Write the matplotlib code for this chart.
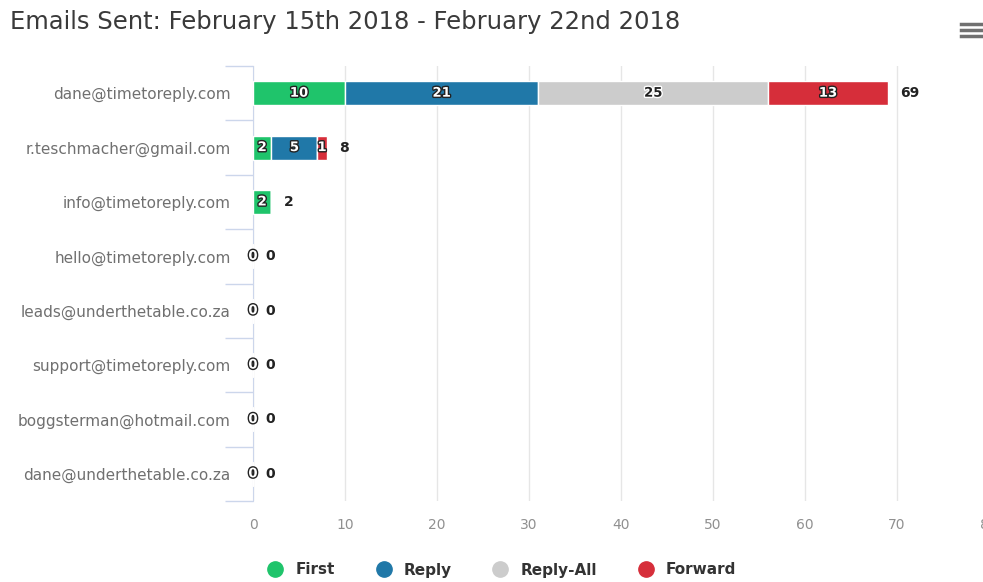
import matplotlib.pyplot as plt
import matplotlib.patheffects as pe
from matplotlib.lines import Line2D
import numpy as np

# Data
senders = ['dane@timetoreply.com', 'r.teschmacher@gmail.com', 'info@timetoreply.com',
           'hello@timetoreply.com', 'leads@underthetable.co.za', 'support@timetoreply.com',
           'boggsterman@hotmail.com', 'dane@underthetable.co.za']
series_names = ['First', 'Reply', 'Reply-All', 'Forward']
first = [10, 2, 2, 0, 0, 0, 0, 0]
reply = [21, 5, 0, 0, 0, 0, 0, 0]
reply_all = [25, 0, 0, 0, 0, 0, 0, 0]
forward = [13, 1, 0, 0, 0, 0, 0, 0]
colors = ['#1fc46b', '#2078a8', '#cccccc', '#d62e3a']

W, H = 983, 582
fig = plt.figure(figsize=(W / 100, H / 100), dpi=100)
ax = fig.add_axes([253 / W, 1 - 501 / H, (989 - 253) / W, (501 - 66) / H])

y = np.arange(len(senders))
left = np.zeros(len(senders))
for name, vals, c in zip(series_names, [first, reply, reply_all, forward], colors):
    vals = np.array(vals, dtype=float)
    ax.barh(y, vals, left=left, height=0.44, color=c, edgecolor='white', linewidth=1, zorder=3)
    for yi, v, l in zip(y, vals, left):
        if c == '#cccccc' and v > 0:
            ax.text(l + v / 2, yi, f'{int(v)}', ha='center', va='center', fontsize=9.5,
                    fontweight='bold', color='#222222', zorder=5,
                    path_effects=[pe.withStroke(linewidth=2, foreground='white')])
        elif v > 0 or c == '#1fc46b':
            ax.text(l + v / 2, yi, f'{int(v)}', ha='center', va='center', fontsize=9.5,
                    fontweight='bold', color='white', zorder=5,
                    path_effects=[pe.withStroke(linewidth=2, foreground='#222222')])
    left += vals

totals = left
for yi, t in zip(y, totals):
    ax.annotate(f'{int(t)}', (t, yi), xytext=(9, 0), textcoords='offset points',
                ha='left', va='center', fontsize=10, fontweight='bold', color='#222222', zorder=5)

ax.set_xlim(0, 80)
ax.set_ylim(len(senders) - 0.5, -0.5)
ax.set_xticks(np.arange(0, 81, 10))
ax.set_yticks(y)
ax.set_yticklabels(senders)
ax.tick_params(axis='y', length=0, pad=16, labelsize=11, labelcolor='#707070')
ax.tick_params(axis='x', length=0, pad=12, labelsize=10, labelcolor='#909090')
# category separators on the left axis
ax.set_yticks(np.arange(-0.5, len(senders), 1), minor=True)
ax.tick_params(axis='y', which='minor', length=20, color='#ccd6eb', width=1)
ax.grid(axis='x', color='#e6e6e6', linewidth=1, zorder=0)
for s in ['top', 'right', 'bottom']:
    ax.spines[s].set_visible(False)
ax.spines['left'].set_color('#ccd6eb')

fig.text(10 / W, 1 - 22 / H, 'Emails Sent: February 15th 2018 - February 22nd 2018',
         ha='left', va='center', fontsize=17.5, color='#3a3a3a')

# menu icon
for yy in [24, 30, 36]:
    fig.add_artist(Line2D([961 / W, 981 / W], [1 - yy / H, 1 - yy / H], color='#707070', linewidth=2.5))

handles = [Line2D([], [], marker='o', linestyle='', markersize=11, markerfacecolor=c,
                  markeredgecolor=c) for c in colors]
fig.legend(handles, series_names, loc='center', bbox_to_anchor=(498 / W, 1 - 570 / H), ncol=4,
           frameon=False, handletextpad=0.3, columnspacing=2.2,
           prop={'weight': 'bold', 'size': 11}, labelcolor='#333333')

fig.savefig('out.png', dpi=100)
